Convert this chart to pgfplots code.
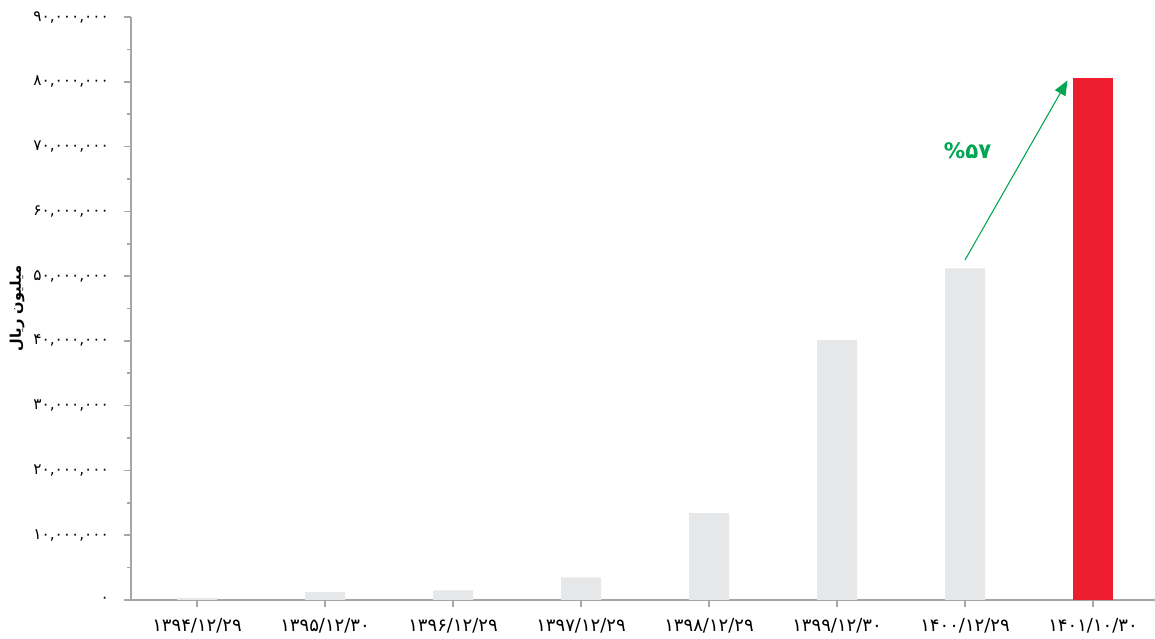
\documentclass[border=0pt]{standalone}
\usepackage{pgfplots}
\pgfplotsset{compat=1.18}
\usepackage{fontspec}
\setmainfont{DejaVu Sans}
\newfontfamily\arabicfont[Script=Arabic]{DejaVu Sans}
\TeXXeTstate=1
\usetikzlibrary{arrows.meta}

\definecolor{barGray}{RGB}{230,231,232}
\definecolor{barRed}{RGB}{237,28,46}
\definecolor{upGreen}{RGB}{0,166,81}
\definecolor{axGray}{RGB}{166,166,166}

% values in million rials
\pgfplotstableread{
x y
0 300000
1 1200000
2 1500000
3 3500000
4 13400000
5 40100000
6 51200000
}\grayBars
\pgfplotstableread{
x y
7 80600000
}\redBar

\begin{document}
\begin{tikzpicture}
\begin{axis}[
    name=ax,
    scale only axis,
    width=768pt, height=437.25pt,
    xmin=-0.516, xmax=7.484,
    ymin=0, ymax=90000000,
    axis lines=left,
    axis line style={axGray, line width=1.2pt, -},
    tick style={axGray, line width=1.2pt},
    tick align=outside,
    major tick length=5pt,
    minor tick length=3pt,
    xtick={0,...,7},
    xticklabels={{۱۳۹۴/۱۲/۲۹},{۱۳۹۵/۱۲/۳۰},{۱۳۹۶/۱۲/۲۹},{۱۳۹۷/۱۲/۲۹},{۱۳۹۸/۱۲/۲۹},{۱۳۹۹/۱۲/۳۰},{۱۴۰۰/۱۲/۲۹},{۱۴۰۱/۱۰/۳۰}},
    ytick={0,10000000,20000000,30000000,40000000,50000000,60000000,70000000,80000000,90000000},
    yticklabels={{۰},{۱۰,۰۰۰,۰۰۰},{۲۰,۰۰۰,۰۰۰},{۳۰,۰۰۰,۰۰۰},{۴۰,۰۰۰,۰۰۰},{۵۰,۰۰۰,۰۰۰},{۶۰,۰۰۰,۰۰۰},{۷۰,۰۰۰,۰۰۰},{۸۰,۰۰۰,۰۰۰},{۹۰,۰۰۰,۰۰۰}},
    minor y tick num=1,
    scaled y ticks=false,
    xticklabel style={font=\arabicfont\fontsize{13.5}{15}\selectfont, text=black, yshift=-5pt},
    yticklabel style={font=\arabicfont\fontsize{11.5}{13}\selectfont, text=black, xshift=-8pt},
    ylabel={\arabicfont\bfseries\beginR میلیون ریال\endR},
    every axis y label/.style={at={(axis description cs:0,0.5)}, xshift=-85.5pt, rotate=90, anchor=center, font=\fontsize{11}{13}\selectfont},
    clip=false,
]
\addplot[ybar, bar width=30pt, bar shift=0pt, fill=barGray, draw=none] table[x=x, y=y] {\grayBars};
\addplot[ybar, bar width=30pt, bar shift=0pt, fill=barRed, draw=none] table[x=x, y=y] {\redBar};
\draw[upGreen, line width=0.8pt, -{Triangle[length=11pt, width=9pt]}]
    (axis cs:6.0,52500000) -- (axis cs:6.8,80200000);
\node[text=upGreen, font=\arabicfont\bfseries\fontsize{16}{18}\selectfont]
    at (axis cs:6.02,69400000) {\%۵۷};
\end{axis}
\pgfresetboundingbox
\path ([shift={(-98.25pt,-29.25pt)}]ax.south west) rectangle ([shift={(0pt,12.75pt)}]ax.north east);
\end{tikzpicture}
\end{document}
